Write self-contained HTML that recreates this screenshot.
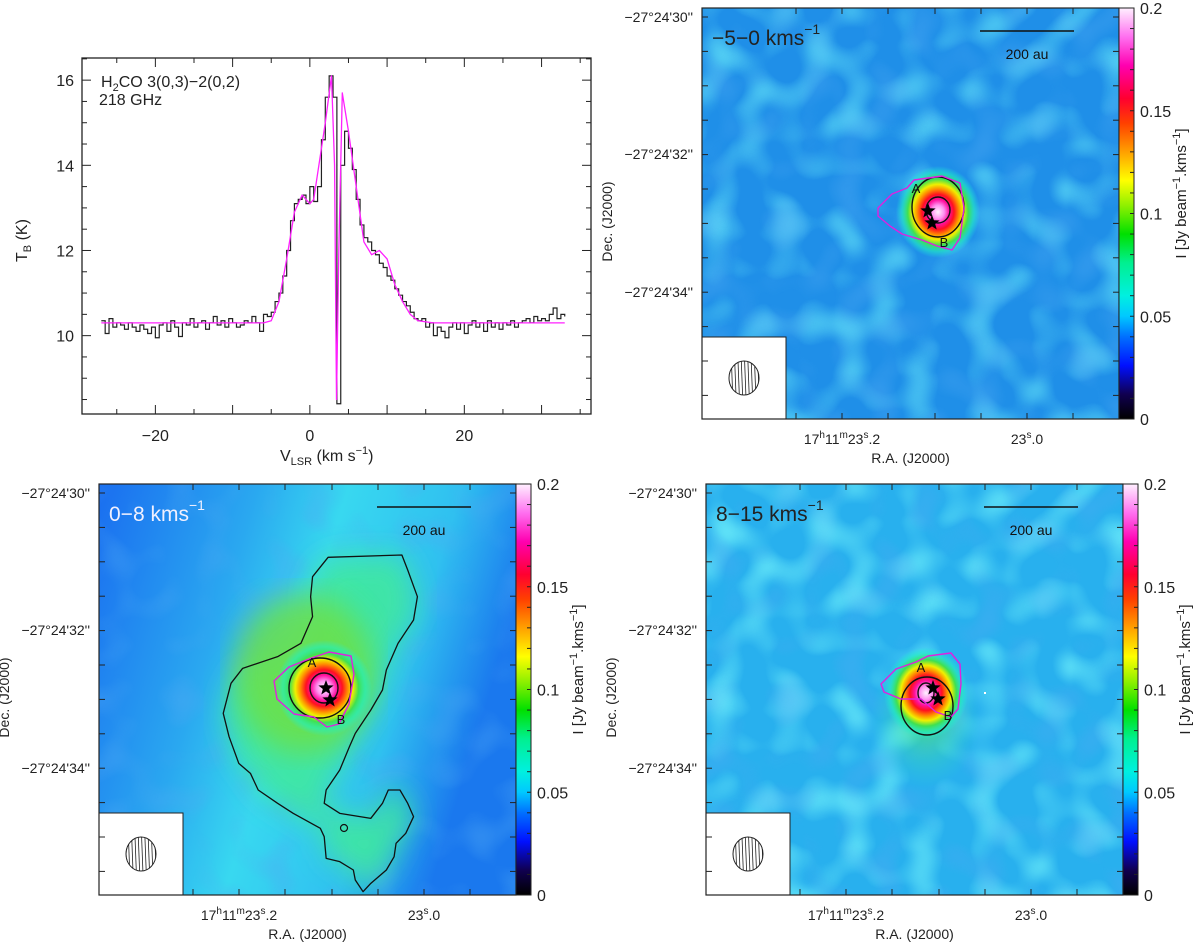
<!DOCTYPE html>
<html><head><meta charset="utf-8">
<style>
html,body{margin:0;padding:0;background:#fff;}
svg{display:block;font-family:"Liberation Sans",sans-serif;}
</style></head>
<body>
<svg id="fig" width="1200" height="943" viewBox="0 0 1200 943" xmlns="http://www.w3.org/2000/svg">
<defs>
  <linearGradient id="cbar" x1="0" y1="1" x2="0" y2="0">
    <stop offset="0" stop-color="#000000"/>
    <stop offset="0.06" stop-color="#100050"/>
    <stop offset="0.13" stop-color="#0010ff"/>
    <stop offset="0.2" stop-color="#0070ff"/>
    <stop offset="0.25" stop-color="#00c8ff"/>
    <stop offset="0.3" stop-color="#00f0e0"/>
    <stop offset="0.38" stop-color="#00f090"/>
    <stop offset="0.45" stop-color="#00e000"/>
    <stop offset="0.52" stop-color="#90f000"/>
    <stop offset="0.58" stop-color="#ffff00"/>
    <stop offset="0.65" stop-color="#ffa000"/>
    <stop offset="0.72" stop-color="#ff4000"/>
    <stop offset="0.78" stop-color="#ff0030"/>
    <stop offset="0.86" stop-color="#ff00b0"/>
    <stop offset="0.93" stop-color="#ff70f0"/>
    <stop offset="1" stop-color="#fff0ff"/>
  </linearGradient>
  <radialGradient id="peak">
    <stop offset="0" stop-color="#fff4ff"/>
    <stop offset="0.15" stop-color="#ff90f0"/>
    <stop offset="0.27" stop-color="#ff10a0"/>
    <stop offset="0.38" stop-color="#ff1020"/>
    <stop offset="0.5" stop-color="#ff9000"/>
    <stop offset="0.6" stop-color="#f0f000"/>
    <stop offset="0.72" stop-color="#40e050"/>
    <stop offset="0.86" stop-color="#20f0c0" stop-opacity="0.6"/>
    <stop offset="1" stop-color="#20f0e0" stop-opacity="0"/>
  </radialGradient>
  <radialGradient id="glowG">
    <stop offset="0" stop-color="#60f040" stop-opacity="0.9"/>
    <stop offset="1" stop-color="#30f0c0" stop-opacity="0"/>
  </radialGradient>
  <linearGradient id="blBase" x1="0" y1="0" x2="1" y2="0.3">
    <stop offset="0" stop-color="#1a6ef0"/>
    <stop offset="0.35" stop-color="#2aa8f0"/>
    <stop offset="0.55" stop-color="#38d8f0"/>
    <stop offset="0.8" stop-color="#30c0f0"/>
    <stop offset="1" stop-color="#1a78ee"/>
  </linearGradient>
  <filter id="noiseA" x="0" y="0" width="100%" height="100%">
    <feTurbulence type="fractalNoise" baseFrequency="0.03" numOctaves="1" seed="3"/>
    <feColorMatrix type="matrix" values="0 0 0 0 0.15  0 0 0 0 0.85  0 0 0 0 0.95  2.4 0 0 0 -1.1"/>
  </filter>
  <filter id="noiseB" x="0" y="0" width="100%" height="100%">
    <feTurbulence type="fractalNoise" baseFrequency="0.03" numOctaves="1" seed="9"/>
    <feColorMatrix type="matrix" values="0 0 0 0 0.08  0 0 0 0 0.4  0 0 0 0 0.9  0 2.4 0 0 -1.15"/>
  </filter>
  <filter id="blur8"><feGaussianBlur stdDeviation="14"/></filter>
</defs>
</svg>
<script>
// ---------- Spectrum data ----------
const obsVel = [];
for (let v = -27; v <= 33.001; v += 0.5) obsVel.push(+v.toFixed(1));
const obsTb = [10.35,10.05,10.4,10.2,10.3,10.25,10.15,10.3,10.2,10.1,10.25,10.15,10.05,10.2,9.95,10.25,10.3,10.1,10.35,10.2,9.98,10.3,10.25,10.4,10.2,10.3,10.35,10.15,10.3,10.45,10.25,10.35,10.2,10.4,10.3,10.2,10.25,10.35,10.3,10.45,10.3,10.1,10.5,
 10.45,10.55,10.8,11.0,11.4,12.0,12.7,13.1,13.2,13.3,13.1,13.5,13.15,13.5,14.6,15.6,16.1,15.6,
 8.4,14.0,14.8,14.4,13.9,13.2,12.6,12.3,12.2,12.0,11.9,11.7,11.6,11.4,11.3,11.1,10.95,10.8,10.7,10.55,10.4,10.35,10.4,10.2,10.3,10.0,10.2,10.1,9.95,10.2,10.3,10.15,10.3,10.05,10.25,10.35,10.2,10.3,10.1,10.35,10.2,10.3,10.15,10.3,10.25,10.35,10.2,10.3,10.35,10.4,10.3,10.45,10.35,10.4,10.35,10.5,10.65,10.4,10.5,10.45];
const modVel = [-27,-6,-5,-4,-3,-2,-1,0,0.5,1,2,2.8,3.2,3.45,3.75,4.2,5,6,7,8,9,10,11,12,13,14,16,33];
const modTb  = [10.3,10.3,10.35,10.8,11.8,12.9,13.3,13.1,13.2,13.8,15.0,16.1,14.0,8.5,12.0,15.7,14.8,13.5,12.2,11.9,12.0,11.8,11.2,10.8,10.5,10.35,10.3,10.3];
const xTickLabels = [-20,0,20];
const yTickLabels = [10,12,14,16];

// ---------- Map data (colorbar) ----------
const cbarTickLabels = [0,0.05,0.1,0.15,0.2];
const panelTitles = ["\u22125\u22120 kms","0\u22128 kms","8\u221215 kms"];

const NS="http://www.w3.org/2000/svg";
const svg=document.getElementById('fig');
function el(tag,attrs,parent){const e=document.createElementNS(NS,tag);for(const k in attrs)e.setAttribute(k,attrs[k]);(parent||svg).appendChild(e);return e;}

// ===== Spectrum panel =====
const SX0=82,SX1=591,SY0=58,SY1=414;
const vMin=-29.5,vMax=36.4,tMin=8.16,tMax=16.52;
const xs=v=>SX0+(v-vMin)/(vMax-vMin)*(SX1-SX0);
const ys=t=>SY1-(t-tMin)/(tMax-tMin)*(SY1-SY0);
const sp=el('g',{});


const sbox=el('rect',{x:SX0,y:SY0,width:SX1-SX0,height:SY1-SY0,fill:'none',stroke:'#222','stroke-width':1.3},sp);


for(let v=-25;v<=35;v+=5){
  const L=(v%10===0)?9:5;
  el('line',{x1:xs(v),x2:xs(v),y1:SY1,y2:SY1-L,stroke:'#222'},sp);
  el('line',{x1:xs(v),x2:xs(v),y1:SY0,y2:SY0+L,stroke:'#222'},sp);
}
for(let t=8.5;t<=16.5;t+=0.5){
  const L=(Math.abs(t%2)<1e-6)?9:5;
  el('line',{x1:SX0,x2:SX0+L,y1:ys(t),y2:ys(t),stroke:'#222'},sp);
  el('line',{x1:SX1,x2:SX1-L,y1:ys(t),y2:ys(t),stroke:'#222'},sp);
}
xTickLabels.forEach(v=>{const t=el('text',{x:xs(v),y:441,'font-size':16,'text-anchor':'middle',fill:'#222'},sp);t.textContent=(v<0?'\u2212'+(-v):v);
  });
yTickLabels.forEach(v=>{const t=el('text',{x:74,y:ys(v)+6,'font-size':16,'text-anchor':'end',fill:'#222'},sp);t.textContent=v;
  });
const yt=el('text',{x:0,y:0,'font-size':16,fill:'#222',transform:'translate(27,262) rotate(-90)'},sp);
yt.innerHTML='T<tspan font-size="11" dy="4">B</tspan><tspan dy="-4">  (K)</tspan>';

const xt=el('text',{x:280,y:461,'font-size':16,fill:'#222'},sp);
xt.innerHTML='V<tspan font-size="11" dy="4">LSR</tspan><tspan dy="-4"> (km  s</tspan><tspan font-size="11" dy="-7">\u22121</tspan><tspan dy="7">)</tspan>';

const lab=el('text',{x:101,y:87,'font-size':16,fill:'#222'},sp);
lab.innerHTML='H<tspan font-size="11" dy="4">2</tspan><tspan dy="-4">CO  3(0,3)\u22122(0,2)</tspan>';

const lab2=el('text',{x:99,y:105,'font-size':16,fill:'#222'},sp);lab2.textContent='218  GHz';

let d='';
for(let i=0;i<obsVel.length;i++){
  const x=xs(obsVel[i]),y=ys(obsTb[i]);
  if(i===0)d+='M'+x+' '+y;else d+=' H'+x+' V'+y;
}
const obs=el('path',{d:d,fill:'none',stroke:'#222','stroke-width':1.2},sp);

let md=modVel.map((v,i)=>(i?'L':'M')+xs(v)+' '+ys(modTb[i])).join(' ');
const mod=el('path',{d:md,fill:'none',stroke:'#ff20ff','stroke-width':1.3,'stroke-linejoin':'round'},sp);


// ===== Map panels =====
const W=417,H=411,CBW=15;
function poly(pts){return 'M'+pts.map(p=>p.join(' ')).join(' L')+' Z';}
function star(cx,cy,r){let p=[];for(let i=0;i<10;i++){const a=-Math.PI/2+i*Math.PI/5;const rr=i%2?r*0.42:r;p.push([cx+rr*Math.cos(a),cy+rr*Math.sin(a)]);}return poly(p);}

function panel(x0,y0,cfg,idx){
  const g=el('g',{transform:`translate(${x0},${y0})`});
  
  
  const cid='clip'+idx;
  const cp=el('clipPath',{id:cid},g);el('rect',{x:0,y:0,width:W,height:H},cp);
  const img=el('g',{'clip-path':`url(#${cid})`},g);
  
  
  if(cfg.bl){
    el('rect',{x:0,y:0,width:W,height:H,fill:'url(#blBase)'},img);
    el('rect',{x:0,y:0,width:W,height:H,filter:'url(#noiseB)',opacity:0.5},img);
    el('path',{d:cfg.bigContour,fill:'#40e8a0',filter:'url(#blur8)',opacity:0.9},img);
    el('ellipse',{cx:205,cy:190,rx:70,ry:80,fill:'#70e040',filter:'url(#blur8)',opacity:0.8},img);
  } else {
    el('rect',{x:0,y:0,width:W,height:H,fill:cfg.base},img);
    el('rect',{x:0,y:0,width:W,height:H,filter:'url(#noiseA)',opacity:cfg.nA},img);
    el('rect',{x:0,y:0,width:W,height:H,filter:'url(#noiseB)',opacity:0.55},img);
  }
  if(cfg.glow) el('ellipse',{cx:cfg.c[0],cy:cfg.c[1]+25,rx:55,ry:70,fill:'url(#glowG)',opacity:0.7},img);
  const pk=el('ellipse',{cx:cfg.c[0],cy:cfg.c[1],rx:cfg.pr[0],ry:cfg.pr[1],fill:'url(#peak)'},img);
  
  if(cfg.bigContour){const c=el('path',{d:cfg.bigContour,fill:'none',stroke:'#111','stroke-width':1.3,'stroke-linejoin':'round'},img);
    
    const sc=el('circle',{cx:cfg.smallC[0],cy:cfg.smallC[1],r:3.5,fill:'none',stroke:'#111','stroke-width':1.2},img);
    }
  const c1=el('ellipse',{cx:cfg.e1[0],cy:cfg.e1[1],rx:cfg.e1[2],ry:cfg.e1[3],fill:'none',stroke:'#111','stroke-width':1.4},img);
  
  const c2=el('ellipse',{cx:cfg.e2[0],cy:cfg.e2[1],rx:cfg.e2[2],ry:cfg.e2[3],fill:'none',stroke:'#111','stroke-width':1.4},img);
  
  const mg=el('path',{d:poly(cfg.mag),fill:'none',stroke:'#e020e0','stroke-width':1.4,'stroke-linejoin':'round'},img);
  
  cfg.stars.forEach((s,i)=>{const st=el('path',{d:star(s[0],s[1],8),fill:'#000'},img);
    });
  const ta=el('text',{x:cfg.A[0],y:cfg.A[1],'font-size':13,fill:'#111','text-anchor':'middle'},img);ta.textContent='A';
  
  const tb=el('text',{x:cfg.B[0],y:cfg.B[1],'font-size':13,fill:'#111','text-anchor':'middle'},img);tb.textContent='B';
  
  if(cfg.dot) el('rect',{x:cfg.dot[0],y:cfg.dot[1],width:2,height:2,fill:'#fff'},img);
  const vl=el('text',{x:10,y:37,'font-size':21,fill:cfg.tcol},g);
  vl.innerHTML=panelTitles[idx]+'<tspan font-size="14" dy="-11">\u22121</tspan>';
  
  const sb=el('line',{x1:278,x2:372,y1:23,y2:23,stroke:'#111','stroke-width':1.5},g);
  
  const sbt=el('text',{x:325,y:51,'font-size':14,fill:'#111','text-anchor':'middle'},g);sbt.textContent='200 au';
  
  const bb=el('rect',{x:0,y:329,width:84,height:H-329,fill:'#fff',stroke:'#222','stroke-width':1},g);
  
  const bc='bclip'+idx;const bcp=el('clipPath',{id:bc},g);el('ellipse',{cx:42,cy:370,rx:15,ry:17},bcp);
  const hg=el('g',{'clip-path':`url(#${bc})`},g);
  for(let x=26;x<=60;x+=3.3)el('line',{x1:x,x2:x+1.5,y1:350,y2:390,stroke:'#222','stroke-width':0.8},hg);
  const be=el('ellipse',{cx:42,cy:370,rx:15,ry:17,fill:'none',stroke:'#222','stroke-width':1},g);
  
  el('rect',{x:0,y:0,width:W,height:H,fill:'none',stroke:'#222','stroke-width':1.2},g);
  [94,140,186,233,279,325,371].forEach(x=>{el('line',{x1:x,x2:x,y1:H,y2:H-6,stroke:'#222'},g);el('line',{x1:x,x2:x,y1:0,y2:6,stroke:'#222'},g);});
  for(let i=0;i<12;i++){const y=9+i*34.4;el('line',{x1:0,x2:6,y1:y,y2:y,stroke:'#222'},g);el('line',{x1:W,x2:W-6,y1:y,y2:y,stroke:'#222'},g);}
  [["\u221227\u00b024'30''",9],["\u221227\u00b024'32''",146],["\u221227\u00b024'34''",284]].forEach(([s,y])=>{
    const t=el('text',{x:-9,y:y+5,'font-size':14,'text-anchor':'end',fill:'#222'},g);t.textContent=s;
    });
  const r1=el('text',{x:140,y:H+25,'font-size':14,'text-anchor':'middle',fill:'#222'},g);
  r1.innerHTML='17<tspan font-size="10" dy="-6">h</tspan><tspan dy="6">11</tspan><tspan font-size="10" dy="-6">m</tspan><tspan dy="6">23</tspan><tspan font-size="10" dy="-6">s</tspan><tspan dy="6">.2</tspan>';
  
  const r2=el('text',{x:325,y:H+25,'font-size':14,'text-anchor':'middle',fill:'#222'},g);
  r2.innerHTML='23<tspan font-size="10" dy="-6">s</tspan><tspan dy="6">.0</tspan>';
  
  const rt=el('text',{x:W/2,y:H+44,'font-size':14,'text-anchor':'middle',fill:'#222'},g);rt.textContent='R.A.  (J2000)';
  
  const dt=el('text',{x:0,y:0,'font-size':14,'text-anchor':'middle',fill:'#222',transform:`translate(-90,${H/2+8}) rotate(-90)`},g);dt.textContent='Dec.  (J2000)';
  
  const cb=el('rect',{x:W,y:0,width:CBW,height:H,fill:'url(#cbar)',stroke:'#222','stroke-width':1},g);
  
  for(let v=0.01;v<0.2;v+=0.01){const y=H-v/0.2*H;el('line',{x1:W+CBW,x2:W+CBW-4,y1:y,y2:y,stroke:'#222'},g);}
  cbarTickLabels.forEach(v=>{const y=H-v/0.2*H;const t=el('text',{x:W+CBW+6,y:y+6,'font-size':16,fill:'#222'},g);t.textContent=v;
    });
  const ct=el('text',{x:0,y:0,'font-size':15,'text-anchor':'middle',fill:'#222',transform:`translate(${W+CBW+52},${H/2-20}) rotate(-90)`},g);
  ct.innerHTML='I  [Jy  beam<tspan font-size="11" dy="-6">\u22121</tspan><tspan dy="6">.kms</tspan><tspan font-size="11" dy="-6">\u22121</tspan><tspan dy="6">]</tspan>';
  
}

const bigPtsZ=[[850,262],[1040,255],[1055,300],[1080,380],[1070,450],[1030,520],[1000,600],[990,660],[960,720],[920,790],[905,830],[880,900],[845,960],[840,1000],[880,1030],[960,1045],[990,1000],[1005,960],[1035,960],[1055,1000],[1070,1040],[1050,1090],[1025,1120],[1020,1160],[1000,1200],[960,1240],[940,1265],[920,1230],[915,1200],[880,1175],[845,1165],[840,1100],[830,1075],[760,1030],[720,1000],[670,960],[650,910],[620,880],[595,800],[580,730],[600,640],[630,595],[720,560],[780,520],[810,440],[805,380],[810,320]];
const bigPts=bigPtsZ.map(p=>[p[0]/2.575-101,p[1]/3-14]);

panel(702,8,{base:'#1f8fe8',nA:0.8,c:[236,204],pr:[42,46],
  e1:[236,199,26,30],e2:[236,202,12,13],
  mag:[[176,200],[190,186],[205,180],[212,172],[240,168],[258,175],[262,200],[258,230],[250,242],[235,238],[220,232],[200,226],[188,218],[176,208]],
  stars:[[226,203],[230,215]],A:[214,185],B:[242,239],tcol:'#222'},0);
panel(99,484,{bl:true,bigContour:poly(bigPts),smallC:[245,344],c:[225,204],pr:[48,48],
  e1:[221,204,31,30],e2:[225,204,14,15],
  mag:[[175,197],[190,183],[210,175],[230,168],[252,172],[255,190],[250,220],[240,240],[228,243],[215,233],[195,230],[178,215]],
  stars:[[227,204],[231,216]],A:[213,183],B:[242,240],tcol:'#f0f0ff'},1);
panel(706,484,{base:'#28b0ee',nA:1,glow:true,c:[220,209],pr:[42,46],
  e1:[221,222,26,29],e2:[220,209,8,10],
  mag:[[175,200],[190,185],[210,178],[222,172],[245,169],[254,180],[255,200],[252,225],[245,233],[230,228],[215,215],[195,215],[178,208]],
  stars:[[227,204],[232,215]],A:[215,188],B:[242,236],dot:[278,208],tcol:'#222'},2);
</script>
</body></html>
